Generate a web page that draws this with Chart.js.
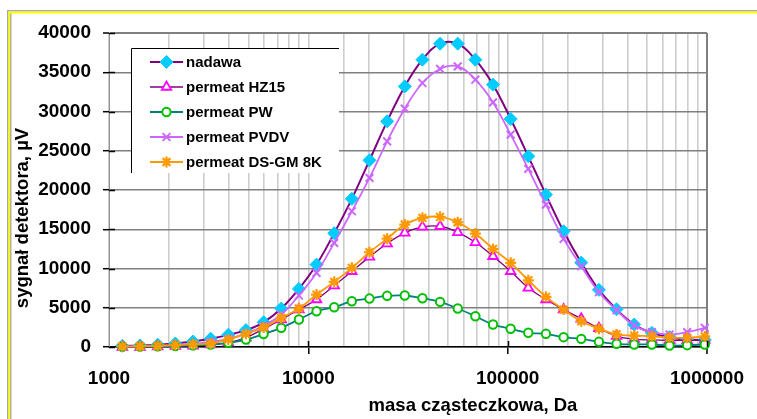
<!DOCTYPE html>
<html><head><meta charset="utf-8">
<script src="https://cdn.jsdelivr.net/npm/chart.js@4"></script>
<style>html,body{margin:0;padding:0;background:#fff;}canvas{display:block;}</style>
</head><body>
<canvas id="c" width="757" height="419"></canvas>
<script>
// Molecular mass (Da) of each sampled slice
const masses = [1167, 1431, 1755, 2152, 2639, 3236, 3967, 4864, 5965, 7313, 8967, 10994, 13483, 16529, 20265, 24849, 30466, 37355, 45805, 56165, 68852, 84433, 103514, 126900, 155600, 190800, 233900, 286900, 351800, 431200, 528800, 648400, 795100, 974600];
const nadawa = [150, 200, 300, 450, 700, 1050, 1550, 2150, 3150, 4900, 7400, 10500, 14500, 18870, 23780, 28750, 33200, 36600, 38640, 38640, 36600, 33420, 29050, 24290, 19410, 14740, 10750, 7280, 4800, 2860, 1800, 1250, 950, 900];
const hz15 = [0, 0, 50, 100, 150, 300, 550, 1200, 2300, 3500, 4770, 6050, 7830, 9650, 11480, 13180, 14540, 15300, 15380, 14610, 13340, 11560, 9650, 7540, 6050, 4770, 3600, 2380, 1400, 1000, 900, 850, 850, 900];
const pw = [30, 50, 80, 120, 200, 320, 530, 950, 1650, 2440, 3500, 4560, 5070, 5830, 6170, 6520, 6560, 6210, 5750, 4900, 3920, 2860, 2320, 1810, 1680, 1250, 1040, 660, 410, 320, 320, 190, 230, 320];
const pvdv = [50, 80, 150, 250, 400, 650, 1050, 1700, 2700, 4140, 6560, 9450, 13260, 17290, 21540, 26200, 30360, 33630, 35420, 35750, 34050, 31160, 27050, 22690, 18140, 13770, 10290, 6980, 4690, 2740, 1890, 1590, 1890, 2440];
const dsgm = [80, 100, 150, 250, 350, 450, 950, 1680, 2500, 3710, 4900, 6680, 8300, 10080, 12070, 13800, 15600, 16450, 16580, 15890, 14450, 12500, 10720, 8500, 6390, 4770, 3280, 2320, 1600, 1460, 1350, 1200, 1170, 1350];
const seriesNames = ['nadawa', 'permeat HZ15', 'permeat PW', 'permeat PVDV', 'permeat DS-GM 8K'];
const xTitle = 'masa cząsteczkowa, Da';
const yTitle = 'sygnał detektora, µV';
const yMin = 0, yMax = 40000, yStep = 5000;
const xMin = 1000, xMax = 1000000;

const FONT = '"Liberation Sans", Arial, sans-serif';
const pts = arr => arr.map((v, i) => ({x: masses[i], y: v}));
const isDecade = v => Math.abs(Math.log10(v) - Math.round(Math.log10(v))) < 1e-9;

const styles = [
  {borderColor: '#800080', borderWidth: 2, pointStyle: 'rectRot', pointRadius: 6.5, pointBackgroundColor: '#00CCFF', pointBorderColor: '#00CCFF', pointBorderWidth: 1, order: 4},
  {borderColor: '#800080', borderWidth: 1.3, pointStyle: 'triangle', pointRadius: 5.5, pointBackgroundColor: '#FFFFFF', pointBorderColor: '#FF00FF', pointBorderWidth: 1.8, order: 3},
  {borderColor: '#008080', borderWidth: 1.8, pointStyle: 'circle', pointRadius: 4.2, pointBackgroundColor: '#FFFFFF', pointBorderColor: '#00C000', pointBorderWidth: 2, order: 2},
  {borderColor: '#CC66FF', borderWidth: 1.8, pointStyle: 'crossRot', pointRadius: 5.5, pointBackgroundColor: '#CC66FF', pointBorderColor: '#CC66FF', pointBorderWidth: 2, order: 1},
  {borderColor: '#FF9900', borderWidth: 1.8, pointStyle: 'star', pointRadius: 5.5, pointBackgroundColor: '#FF9900', pointBorderColor: '#FF9900', pointBorderWidth: 2.2, order: 0}
];
const allData = [nadawa, hz15, pw, pvdv, dsgm];
const datasets = allData.map((arr, i) => Object.assign({
  label: seriesNames[i], data: pts(arr), showLine: true, tension: 0.4, fill: false, clip: false
}, styles[i]));

const decorPlugin = {
  id: 'decor',
  beforeDraw(chart) {
    const ctx = chart.ctx;
    ctx.save();
    ctx.fillStyle = '#fff';
    ctx.fillRect(0, 0, chart.width, chart.height);
    // outer frame
    ctx.fillStyle = '#A8A8A8';
    ctx.fillRect(7, 10, chart.width, 1.5);
    ctx.fillRect(7, 10, 1.5, chart.height);
    ctx.fillStyle = '#FFFF00';
    ctx.fillRect(8.5, 11.5, chart.width, 2);
    ctx.fillRect(8.5, 11.5, 2, chart.height);
    ctx.fillStyle = '#707070';
    ctx.fillRect(10.5, 13.5, 0.8, chart.height);
    ctx.restore();
  },
  afterDraw(chart) {
    const ctx = chart.ctx;
    const a = chart.chartArea;
    const xs = chart.scales.x, ys = chart.scales.y;
    ctx.save();
    // inner parts of tick marks (crossing the axes)
    ctx.strokeStyle = '#000';
    ctx.lineWidth = 1.5;
    for (let v = yMin; v <= yMax; v += yStep) {
      const y = Math.round(ys.getPixelForValue(v)) + 0.5;
      ctx.beginPath(); ctx.moveTo(a.left, y); ctx.lineTo(a.left + 6, y); ctx.stroke();
    }
    [10000, 100000, 1000000].forEach(v => {
      const x = Math.round(xs.getPixelForValue(v)) + 0.5;
      ctx.beginPath(); ctx.moveTo(x, a.bottom); ctx.lineTo(x, a.bottom - 6); ctx.stroke();
    });
    // legend box
    const L = 131.5, T = 48.5, R = 339, B = 173;
    ctx.fillStyle = '#fff';
    ctx.fillRect(L, T, R - L, B - T);
    ctx.strokeStyle = '#000';
    ctx.lineWidth = 1;
    ctx.beginPath(); ctx.moveTo(R, T); ctx.lineTo(L, T); ctx.lineTo(L, B); ctx.stroke();
    chart.data.datasets.forEach((ds, i) => {
      const y = 62 + i * 25;
      ctx.strokeStyle = ds.borderColor;
      ctx.lineWidth = ds.borderWidth;
      ctx.beginPath(); ctx.moveTo(150, y); ctx.lineTo(183, y); ctx.stroke();
      ctx.fillStyle = ds.pointBackgroundColor;
      ctx.strokeStyle = ds.pointBorderColor;
      ctx.lineWidth = ds.pointBorderWidth;
      Chart.helpers.drawPoint(ctx, {pointStyle: ds.pointStyle, radius: ds.pointRadius, rotation: 0, borderWidth: ds.pointBorderWidth}, 166.5, y);
      ctx.fillStyle = '#000';
      ctx.font = 'bold 15px ' + FONT;
      ctx.textBaseline = 'middle';
      ctx.textAlign = 'left';
      ctx.fillText(ds.label, 186, y + 0.5);
    });
    // axis titles
    ctx.fillStyle = '#000';
    ctx.font = 'bold 18.5px ' + FONT;
    ctx.textAlign = 'center';
    ctx.textBaseline = 'middle';
    ctx.fillText(xTitle, 473, 406);
    ctx.translate(23, 218);
    ctx.rotate(-Math.PI / 2);
    ctx.fillText(yTitle, 0, 0);
    ctx.restore();
  }
};

new Chart(document.getElementById('c'), {
  type: 'scatter',
  data: {datasets},
  plugins: [decorPlugin],
  options: {
    responsive: false,
    animation: false,
    devicePixelRatio: 1,
    layout: {padding: {top: 33, right: 41, left: 0, bottom: 0}},
    plugins: {legend: {display: false}, tooltip: {enabled: false}},
    scales: {
      x: {
        type: 'logarithmic', min: xMin, max: xMax,
        afterFit: s => { s.height = 72; },
        border: {display: true, color: '#000', width: 1.5},
        grid: {
          color: c => (c.tick && c.tick.value >= xMax) ? '#808080' : '#CDCDCD',
          lineWidth: c => (c.tick && c.tick.value >= xMax) ? 2 : 1.6,
          tickLength: 7,
          tickColor: c => (c.tick && isDecade(c.tick.value) && c.tick.value > xMin) ? '#000' : 'rgba(0,0,0,0)',
          tickWidth: 1.5
        },
        ticks: {
          autoSkip: false, maxRotation: 0, minRotation: 0, padding: 13,
          color: '#000', font: {family: FONT, size: 19, weight: 'bold'},
          callback: v => isDecade(v) ? String(v) : ''
        }
      },
      y: {
        min: yMin, max: yMax,
        afterFit: s => { s.width = 109; },
        border: {display: true, color: '#909090', width: 1},
        grid: {
          color: '#808080',
          lineWidth: c => (c.tick && c.tick.value >= yMax) ? 2 : 1.4,
          tickLength: 6, tickColor: '#000', tickWidth: 1.5
        },
        ticks: {
          stepSize: yStep, padding: 12, color: '#000',
          font: {family: FONT, size: 19, weight: 'bold'},
          callback: v => String(v)
        }
      }
    }
  }
});
</script>
</body></html>
